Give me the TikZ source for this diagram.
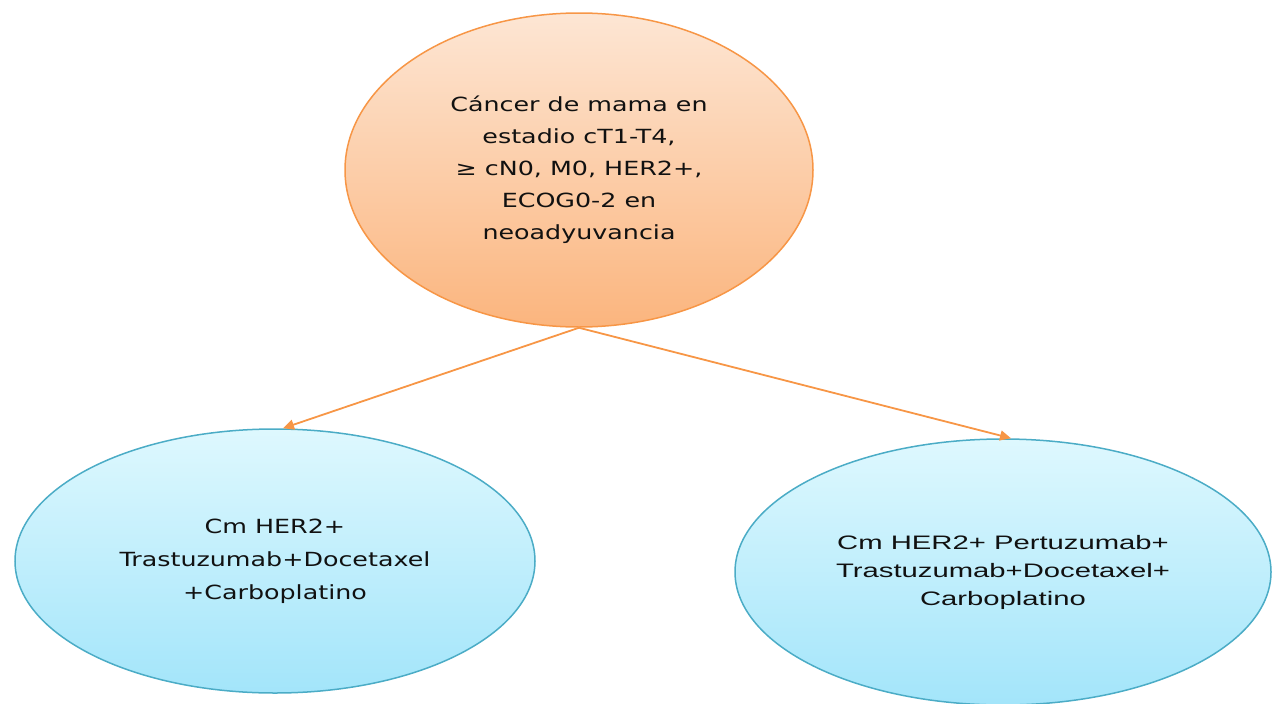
\documentclass[tikz,border=0pt]{standalone}
\usepackage{fontspec}
\newfontfamily\verdfont[FakeStretch=1.3]{DejaVu Sans}
\newfontfamily\arialfont[FakeStretch=1.5]{Liberation Sans}
\usetikzlibrary{shapes.geometric,arrows.meta}
\definecolor{orline}{HTML}{F79646}
\definecolor{ortop}{HTML}{FDE6D4}
\definecolor{orbot}{HTML}{FBB57E}
\definecolor{blline}{HTML}{4BACC6}
\definecolor{bltop}{HTML}{DEF8FE}
\definecolor{blbot}{HTML}{A3E5FA}
\definecolor{txt}{HTML}{111111}
\tikzset{
  orell/.style={ellipse, draw=orline, line width=1.5pt, top color=ortop, bottom color=orbot, inner sep=0pt, align=center, text=txt},
  blell/.style={ellipse, draw=blline, line width=1.5pt, top color=bltop, bottom color=blbot, inner sep=0pt, align=center, text=txt},
  conn/.style={draw=orline, line width=1.8pt, -{Triangle[length=11pt,width=10pt]}}
}
\begin{document}
\begin{tikzpicture}[x=1pt,y=-1pt]
\useasboundingbox (0,0) rectangle (1272,704);
\node[orell, minimum width=468pt, minimum height=314pt, font=\verdfont\fontsize{19.5}{32}\selectfont] (top) at (579,170)
  {Cáncer de mama en\\estadio cT1-T4,\\≥ cN0, M0, HER2+,\\ECOG0-2 en\\neoadyuvancia};
\node[blell, minimum width=520pt, minimum height=264pt, font=\verdfont\fontsize{19.5}{33}\selectfont] (left) at (275,561)
  {Cm HER2+\\Trastuzumab+Docetaxel\\+Carboplatino};
\node[blell, minimum width=536pt, minimum height=266pt, font=\arialfont\fontsize{19.5}{28}\selectfont] (right) at (1003,572)
  {Cm HER2+ Pertuzumab+\\Trastuzumab+Docetaxel+\\Carboplatino};
\draw[conn] (top.south) -- ([xshift=8pt]left.north);
\draw[conn] (top.south) -- ([xshift=8pt]right.north);
\end{tikzpicture}
\end{document}
